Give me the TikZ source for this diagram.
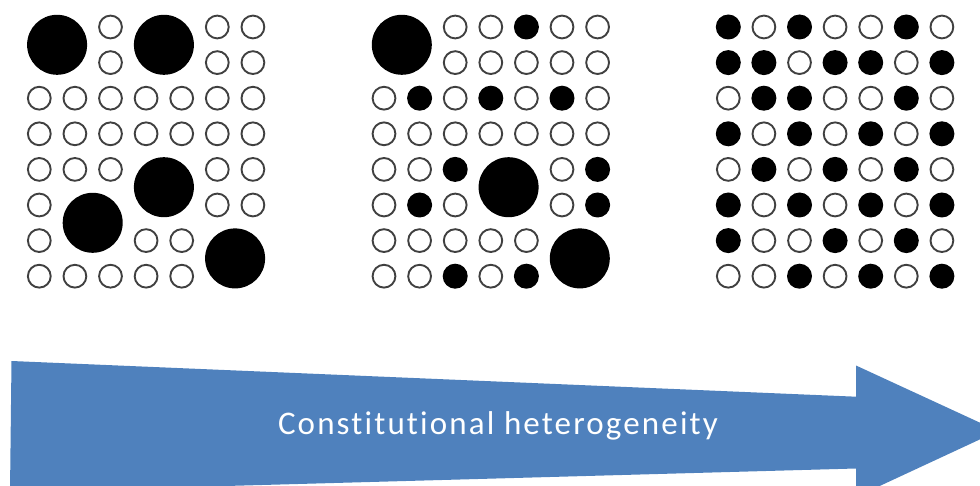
\documentclass[tikz,border=0pt]{standalone}
\usepackage{fontspec}
\usepackage{tikz}
\newfontfamily\arrowfont[LetterSpace=6.5, Ligatures=NoCommon]{Carlito}
\definecolor{arrowblue}{RGB}{79,129,189}

% one 8x7 block of cells: o = ring, x = small dot, B = big dot (2x2), n = nothing
\newcommand{\dotgrid}[3]{%
  \foreach \row [count=\r from 0] in {#3} {
    \foreach \c [count=\k from 0] in \row {
      \if\c n\else
        \node[cell \c] (#1-\r-\k) at ({#2+\k*35.6}, {27+\r*35.6}) {};
      \fi
    }
  }}

\begin{document}
\begin{tikzpicture}[x=1pt, y=-1pt,
  cell o/.style={circle, draw=black!75, line width=1.9pt, minimum size=22.8pt, inner sep=0pt},
  cell x/.style={circle, fill=black, minimum size=25pt, inner sep=0pt},
  cell B/.style={circle, fill=black, minimum size=60pt, inner sep=0pt,
                 xshift=17.8pt, yshift=-17.8pt},
  label/.style={text=white, font=\arrowfont\fontsize{33pt}{40pt}\selectfont, anchor=base}]
\useasboundingbox (0,0) rectangle (980,486);
\clip (0,0) rectangle (980,486);

\dotgrid{low}{39.3}{{B,n,o,B,n,o,o},{n,n,o,n,n,o,o},{o,o,o,o,o,o,o},{o,o,o,o,o,o,o},
  {o,o,o,B,n,o,o},{o,B,n,n,n,o,o},{o,n,n,o,o,B,n},{o,o,o,o,o,n,n}}
\dotgrid{mid}{384}{{B,n,o,o,x,o,o},{n,n,o,o,o,o,o},{o,x,o,x,o,x,o},{o,o,o,o,o,o,o},
  {o,o,x,B,n,o,x},{o,x,o,n,n,o,x},{o,o,o,o,o,B,n},{o,o,x,o,x,n,n}}
\dotgrid{high}{728.3}{{x,o,x,o,o,x,o},{x,x,o,x,x,o,x},{o,x,x,o,o,x,o},{x,o,x,o,x,o,x},
  {o,x,o,x,o,x,o},{x,o,x,o,x,o,x},{x,o,o,x,o,x,o},{o,o,x,o,x,o,x}}

% the wide arrow
\fill[arrowblue] (11.5,361) -- (856,396.7) -- (856,365.5) -- (998,431)
  -- (856,497) -- (856,468.5) -- (10,492) -- cycle;
\node[label] (trend) at (498,434) {Constitutional heterogeneity};
\end{tikzpicture}
\end{document}
